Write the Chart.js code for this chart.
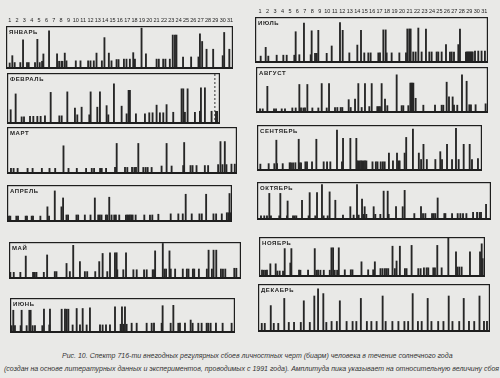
<!DOCTYPE html>
<html><head><meta charset="utf-8">
<script src="https://cdn.jsdelivr.net/npm/chart.js@4.4.1/dist/chart.umd.min.js"></script>
<style>
html,body{margin:0;padding:0;}
body{width:500px;height:378px;background:#e9e9e7;position:relative;overflow:hidden;font-family:"Liberation Sans",Arial,sans-serif;}
canvas{position:absolute;}
.cap{position:absolute;font-style:italic;font-size:7px;color:#333;white-space:nowrap;}
</style></head><body>
<div class="cap" id="c1" style="left:62px;top:352px;">Рис. 10. Спектр 716-ти внегодных регулярных сбоев личностных черт (биарм) человека в течение солнечного года</div>
<div class="cap" id="c2" style="left:4px;top:365px;">(создан на основе литературных данных и экспериментов, проводимых с 1991 года). Амплитуда пика указывает на относительную величину сбоя</div>
<script>
const dayLabels = [1,2,3,4,5,6,7,8,9,10,11,12,13,14,15,16,17,18,19,20,21,22,23,24,25,26,27,28,29,30,31];
const monthNames = ["ЯНВАРЬ","ФЕВРАЛЬ","МАРТ","АПРЕЛЬ","МАЙ","ИЮНЬ","ИЮЛЬ","АВГУСТ","СЕНТЯБРЬ","ОКТЯБРЬ","НОЯБРЬ","ДЕКАБРЬ"];

const janDays = [1.0,1.36,1.68,2.45,2.82,3.36,3.59,4.45,4.77,5.09,5.41,5.59,6.36,7.45,7.73,8.05,8.18,8.5,8.73,10.0,10.64,11.68,12.0,12.45,12.82,13.55,13.9,14.5,14.86,15.55,15.82,16.55,16.9,17.36,17.82,18.05,18.95,19.55,21.0,21.3,21.9,22.2,22.8,23.2,23.5,23.7,24.6,25.7,26.7,26.9,27.2,27.8,28.7,30.0,30.2,30.9];
const janAmps = [14,31,15,15,68,15,15,15,69,15,18,35,89,35,18,18,18,37,19,19,19,19,19,19,37,19,73,37,19,22,22,23,23,23,38,23,95,35,23,23,23,23,23,79,79,79,28,28,28,82,64,46,46,31,85,46];

const febDays = [1.09,1.77,2.59,2.91,3.73,4.18,4.73,5.18,5.77,6.55,7.73,8.05,8.82,9.86,10.18,10.77,11.82,12.0,12.91,13.27,14.18,14.41,15.18,16.23,16.91,17.18,17.36,18.18,19.41,20.0,20.45,21.0,21.45,21.91,22.36,23.27,24.41,24.64,24.86,25.23,26.23,26.91,27.05,27.59,28.5,29.1,29.25];
const febAmps = [28,59,14,14,15,15,15,15,16,62,16,16,63,31,18,33,18,63,33,63,36,18,79,35,20,66,66,20,20,22,22,37,22,22,38,23,69,69,23,69,23,25,71,71,25,25,25];
const febMarkDay = [28.95];

const marDays = [1.09,1.44,1.98,3.31,3.98,5.22,6.24,7.0,8.11,8.78,9.89,11.13,11.89,12.2,13.0,13.22,13.8,15.0,15.22,16.33,16.64,17.27,17.58,17.8,18.11,18.78,19.09,19.36,19.89,21.22,21.89,22.56,24.11,24.24,25.09,25.36,25.89,27.0,27.44,28.78,29.09,29.36,29.67,29.89,30.56,31.0];
const marAmps = [12,12,12,12,12,12,12,12,60,12,12,12,12,12,12,12,12,14,65,14,14,14,14,14,65,14,14,14,14,17,65,17,18,67,18,18,18,18,18,20,69,20,69,20,21,21];

const aprDays = [0.91,1.09,1.91,2.14,3.18,3.36,4.0,4.18,5.18,6.14,6.36,7.14,8.05,8.27,8.73,8.95,10.09,10.32,11.23,12.0,12.59,13.05,13.27,13.5,14.09,14.27,14.55,14.86,15.23,15.45,15.91,16.82,17.0,17.18,17.36,17.55,17.73,18.14,19.32,20.09,20.41,21.23,22.91,23.95,24.55,24.95,25.77,26.82,27.14,27.73,28.73,29.09,29.86,30.55,30.77,30.91,31.09];
const aprAmps = [16,16,16,16,16,16,16,16,16,41,16,84,41,65,19,19,19,19,19,19,65,19,19,19,19,19,67,19,19,19,19,19,19,19,19,19,19,19,19,19,19,21,22,22,22,75,22,22,22,75,22,22,22,25,25,77,25];

const mayDays = [0.91,1.36,2.24,2.96,3.93,4.16,4.38,5.36,5.8,6.82,7.04,8.38,8.82,9.27,10.16,10.82,11.13,12.2,12.73,13.18,13.8,14.16,14.82,15.04,15.13,15.93,16.29,17.27,17.71,18.69,19.04,19.84,20.02,20.16,21.18,21.4,21.62,22.07,22.24,22.82,23.84,24.38,24.6,25.18,25.36,25.98,27.04,27.27,27.71,27.93,28.29,28.91,29.18,29.49,30.69,30.96];
const mayAmps = [18,18,18,62,18,18,18,18,65,20,20,42,20,91,47,20,20,20,47,69,20,71,71,71,25,25,71,25,25,25,25,25,25,76,96,27,27,76,27,27,27,27,27,27,27,27,27,78,27,78,78,27,27,27,29,29];

const junDays = [1.0,1.22,1.44,2.2,2.33,3.0,3.36,3.53,3.8,4.11,5.09,5.31,6.02,6.11,7.67,8.11,8.33,8.56,9.13,9.67,10.11,10.47,11.0,11.44,12.78,13.13,13.58,14.11,14.78,15.53,15.71,15.89,16.11,16.33,17.0,17.67,19.0,19.67,19.98,21.0,21.13,22.2,22.56,23.22,23.44,24.11,24.87,25.13,25.89,26.33,27.0,27.22,27.53,28.24,29.13,30.33];
const junAmps = [21,65,21,21,65,21,65,65,21,21,21,68,23,68,68,68,68,68,23,70,23,70,23,72,23,23,23,23,75,25,75,25,75,25,28,28,28,28,28,28,78,28,79,28,28,28,37,28,28,28,28,28,28,28,28,28];

const julDays = [1.09,1.76,2.11,3.23,4.12,4.57,5.59,5.77,6.26,6.88,7.78,7.91,8.36,8.58,8.8,9.92,10.59,11.7,12.06,12.95,14.02,14.51,14.95,15.49,15.8,16.83,17.05,17.5,17.81,17.94,18.61,19.64,20.53,20.71,20.97,21.15,21.5,21.82,22.18,22.62,23.2,23.65,23.96,24.63,24.85,25.3,25.88,26.41,26.64,26.95,27.53,27.75,28.55,28.68,28.81,28.94,29.07,29.2,29.33,29.45,29.76,30.2,30.64,31.09];
const julAmps = [15,34,15,17,17,17,17,68,18,87,18,70,21,21,71,21,37,88,71,22,39,71,22,22,22,22,22,72,72,22,22,22,22,74,74,74,24,24,76,24,74,24,24,24,24,24,40,24,24,24,40,74,24,24,24,24,24,24,24,24,26,26,26,26];

const augDays = [1.0,1.36,1.98,2.87,3.14,3.9,4.34,5.32,5.77,6.26,6.48,6.8,7.02,7.33,8.0,8.8,9.25,9.92,10.23,11.03,11.34,11.79,12.01,12.86,13.13,13.71,14.15,14.6,15.04,15.62,15.94,16.69,16.87,17.05,17.27,17.72,18.03,19.28,19.95,20.17,20.84,21.11,21.24,21.37,21.51,21.82,22.85,24.41,25.3,25.52,25.97,26.28,26.77,26.95,27.39,28.02,28.64,29.0,29.22,29.84,31.18];
const augAmps = [9,9,58,9,9,9,9,11,11,62,11,11,11,62,11,11,64,11,64,12,12,12,12,29,12,30,64,12,64,14,64,14,14,14,64,30,16,83,16,16,16,65,65,65,65,32,17,17,17,17,67,35,35,17,17,83,69,18,18,18,20];

const sepDays = [1.0,2.11,2.87,3.14,3.23,3.99,4.92,5.1,5.37,5.68,6.13,6.26,6.44,7.02,7.24,7.91,8.49,9.47,9.92,10.36,11.25,11.92,12.06,13.04,13.84,13.93,14.11,14.29,14.47,14.64,14.82,15.0,15.18,16.0,16.45,16.67,17.1,17.39,17.63,18.2,18.74,19.28,19.5,19.63,20.3,20.51,21.41,22.2,22.5,22.82,23.27,24.41,25.07,25.3,25.97,26.64,27.17,27.53,28.2,29.0,29.31,30.11];
const sepAmps = [15,16,16,67,16,16,18,18,18,18,69,18,18,20,20,20,69,20,20,20,89,20,71,71,71,22,22,22,22,22,22,22,22,20,20,20,20,20,20,39,22,39,22,22,39,73,91,39,25,58,25,25,42,25,58,25,93,25,58,58,25,27];

const octDays = [1.09,1.53,1.89,2.2,2.42,3.53,3.67,4.56,4.64,5.36,5.58,5.8,6.56,7.44,7.58,8.33,8.56,9.22,9.44,9.98,10.24,11.0,12.02,13.0,13.44,13.89,14.11,14.56,14.78,14.91,15.13,16.11,16.33,17.0,17.44,17.98,18.11,19.09,19.98,20.24,21.53,22.42,22.69,23.0,23.89,24.11,24.33,24.64,25.53,25.67,26.56,27.31,27.67,28.02,28.47,29.36,29.89,30.24,30.42,31.09];
const octAmps = [11,11,11,70,11,11,70,11,50,11,11,11,52,11,72,11,72,93,11,11,74,52,13,35,13,93,13,55,15,35,15,35,15,15,76,76,15,35,35,78,17,35,17,17,17,17,17,58,17,17,17,17,17,17,17,20,20,20,20,41];

const novDays = [0.96,1.18,1.4,1.62,2.07,2.78,3.0,3.31,3.76,3.98,4.73,4.87,5.89,6.07,7.09,7.98,8.2,8.42,8.73,9.18,9.98,10.2,10.42,10.64,10.96,11.18,11.98,12.78,13.0,14.2,15.09,15.76,15.98,16.73,17.0,17.31,17.53,17.76,18.33,18.64,18.87,19.31,19.98,20.2,20.87,21.76,22.07,22.51,22.87,23.09,23.76,23.98,24.29,24.87,25.76,26.78,26.96,27.22,27.53,28.64,29.98,30.2,30.33];
const novAmps = [17,17,17,17,33,33,15,15,15,71,35,71,17,17,17,71,17,17,17,17,17,73,73,17,17,73,18,18,18,38,18,18,38,21,21,21,21,21,77,21,40,77,21,21,79,21,21,23,23,23,23,23,79,23,100,63,25,25,25,63,63,83,46];

const decDays = [1.0,1.4,2.2,2.6,3.2,4.0,4.6,5.3,6.2,6.6,7.4,8.0,8.5,9.2,9.6,10.3,11.0,11.4,12.3,13.1,13.6,14.2,15.0,15.6,16.3,17.1,17.5,18.4,19.2,20.0,20.5,21.1,21.8,22.3,23.1,23.6,24.5,25.2,25.9,26.4,27.3,27.9,28.6,29.3,30.0,30.6,31.0];
const decAmps = [18,18,55,18,18,70,20,20,20,65,20,75,90,80,20,22,22,65,22,22,22,70,22,22,22,75,22,22,22,22,22,80,22,22,70,22,22,22,75,22,22,70,22,22,75,22,22];

const panels = [
  {name:0, days:janDays, amps:janAmps, l:6,   t:26,  r:233, b:69,  min:0.5,  max:31.4, ticks:true},
  {name:1, days:febDays, amps:febAmps, l:7,   t:73,  r:220, b:124, min:0.59, max:29.65, mark:febMarkDay},
  {name:2, days:marDays, amps:marAmps, l:7,   t:127, r:237, b:174, min:0.56, max:31.3},
  {name:3, days:aprDays, amps:aprAmps, l:7,   t:185, r:232, b:222, min:0.64, max:31.25},
  {name:4, days:mayDays, amps:mayAmps, l:9,   t:242, r:241, b:279, min:0.73, max:31.58},
  {name:5, days:junDays, amps:junAmps, l:10,  t:298, r:235, b:333, min:0.78, max:30.78},
  {name:6, days:julDays, amps:julAmps, l:255, t:17,  r:488, b:63,  min:0.33, max:31.5, ticks:true},
  {name:7, days:augDays, amps:augAmps, l:256, t:67,  r:488, b:113, min:0.46, max:31.5},
  {name:8, days:sepDays, amps:sepAmps, l:257, t:125, r:482, b:171, min:0.55, max:30.65},
  {name:9, days:octDays, amps:octAmps, l:257, t:182, r:491, b:220, min:0.56, max:31.75},
  {name:10,days:novDays, amps:novAmps, l:259, t:237, r:485, b:277, min:0.56, max:30.64},
  {name:11,days:decDays, amps:decAmps, l:258, t:284, r:490, b:332, min:0.5,  max:31.4}
];

const TICK_H = 11;
const boxPlugin = {
  id:'box',
  afterDraw(chart, args, opts){
    const a = chart.chartArea, ctx = chart.ctx;
    ctx.save();
    ctx.strokeStyle = '#1e1e1e';
    ctx.lineWidth = 1.2;
    ctx.strokeRect(a.left+0.6, a.top+0.6, a.right-a.left-1.2, a.bottom-a.top-1.2);
    ctx.lineWidth = 2;
    ctx.beginPath(); ctx.moveTo(a.left, a.bottom-1); ctx.lineTo(a.right, a.bottom-1); ctx.stroke();
    if (opts.showDays) {
      const xs = chart.scales.x;
      ctx.font = '5.5px "Liberation Sans", Arial, sans-serif';
      ctx.fillStyle = '#222';
      ctx.textAlign = 'center';
      ctx.textBaseline = 'bottom';
      dayLabels.forEach(v => ctx.fillText(String(v), xs.getPixelForValue(v), a.top - 3));
      ctx.textAlign = 'left';
    }
    ctx.font = 'bold 6px "Liberation Sans", Arial, sans-serif';
    ctx.letterSpacing = '0.6px';
    ctx.fillStyle = '#1e1e1e';
    ctx.textBaseline = 'top';
    ctx.fillText(opts.label, a.left+3, a.top+3);
    ctx.restore();
  }
};

panels.forEach(p => {
  const cv = document.createElement('canvas');
  const extra = p.ticks ? TICK_H : 0;
  const w = p.r - p.l, h = (p.b - p.t) + extra;
  cv.width = w; cv.height = h;
  cv.style.left = p.l + 'px';
  cv.style.top = (p.t - extra) + 'px';
  cv.style.width = w + 'px'; cv.style.height = h + 'px';
  document.body.appendChild(cv);
  const datasets = [{
    type:'bar',
    data: p.days.map((d,i)=>({x:d, y:p.amps[i]})),
    backgroundColor:'#262626',
    barThickness:1.2,
    grouped:false
  }];
  if (p.mark) {
    datasets.push({
      type:'line',
      data:[{x:p.mark[0], y:0},{x:p.mark[0], y:100}],
      borderColor:'#333', borderWidth:1, borderDash:[2,2], pointRadius:0
    });
  }
  new Chart(cv, {
    type:'bar',
    data:{datasets},
    options:{
      responsive:false, animation:false, devicePixelRatio:1,
      layout:{padding:{top:extra, left:0, right:0, bottom:0}},
      plugins:{legend:{display:false}, tooltip:{enabled:false}, title:{display:false},
               box:{label:monthNames[p.name], showDays:!!p.ticks}},
      scales:{
        x:{type:'linear', min:p.min, max:p.max, display:false, offset:false},
        y:{min:0, max:100, display:false}
      }
    },
    plugins:[boxPlugin]
  });
});
</script>
</body></html>
